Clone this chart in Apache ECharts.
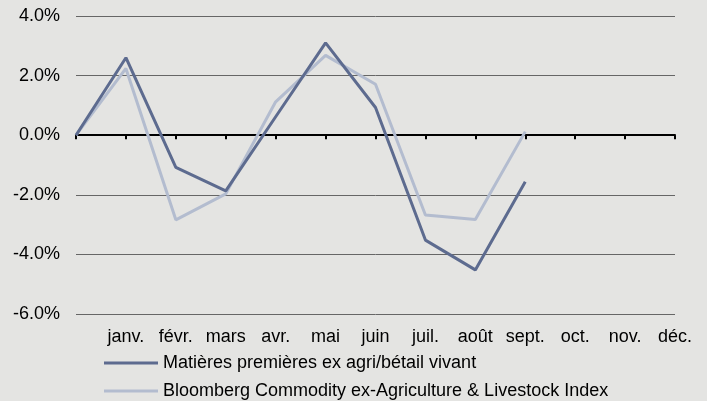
<!DOCTYPE html>
<html>
<head>
<meta charset="utf-8">
<script src="https://cdn.jsdelivr.net/npm/echarts@6/dist/echarts.min.js"></script>
<style>
  html, body { margin: 0; padding: 0; background: #e4e4e2; }
  #chart { width: 707px; height: 401px; }
</style>
</head>
<body>
<div id="chart"></div>
<script>
// Month labels (first slot is the starting point at zero)
const categories = ['', 'janv.', 'févr.', 'mars', 'avr.', 'mai', 'juin', 'juil.', 'août', 'sept.', 'oct.', 'nov.', 'déc.'];

// Monthly returns, in %
const fundValues = [0, 2.60, -1.08, -1.87, 0.62, 3.10, 0.93, -3.52, -4.52, -1.56, null, null, null];
const indexValues = [0, 2.24, -2.84, -1.97, 1.12, 2.68, 1.71, -2.68, -2.83, 0.12, null, null, null];

const seriesNames = [
  'Matières premières ex agri/bétail vivant',
  'Bloomberg Commodity ex-Agriculture & Livestock Index'
];
const seriesColors = ['#5d6b8f', '#b3bccf'];

// y-axis range and step, in %
const yMin = -6, yMax = 4, yStep = 2;

const FONT = '"Liberation Sans", Arial, Helvetica, sans-serif';
const FS = 18;

const chart = echarts.init(document.getElementById('chart'), null, { renderer: 'canvas' });

// one legend row per series, stacked under the plot
const legendRow = (name, top) => ({
  left: 104,
  top: top,
  itemWidth: 54,
  itemHeight: 3,
  icon: 'rect',
  padding: 0,
  textStyle: { fontFamily: FONT, fontSize: FS, color: '#000' },
  data: [name]
});

chart.setOption({
  backgroundColor: '#e4e4e2',
  animation: false,
  textStyle: { fontFamily: FONT, color: '#000' },
  grid: { left: 76, right: 32, top: 16, bottom: 87, containLabel: false },
  legend: [
    legendRow(seriesNames[0], 354),
    legendRow(seriesNames[1], 382)
  ],
  xAxis: [
    {
      // month labels along the bottom of the plot
      type: 'category',
      data: categories,
      boundaryGap: false,
      position: 'bottom',
      axisLine: { show: false, onZero: false },
      axisTick: { show: false },
      splitLine: { show: false },
      axisLabel: { fontFamily: FONT, fontSize: FS, color: '#000', margin: 14, interval: 0 }
    },
    {
      // zero line with tick marks
      type: 'category',
      data: categories,
      boundaryGap: false,
      position: 'bottom',
      axisLine: { show: true, onZero: true, lineStyle: { color: '#000', width: 2 } },
      axisTick: { show: true, length: 4, inside: false, interval: 0, lineStyle: { color: '#000', width: 2 } },
      axisLabel: { show: false },
      splitLine: { show: false }
    }
  ],
  yAxis: {
    type: 'value',
    min: yMin,
    max: yMax,
    interval: yStep,
    axisLine: { show: false },
    axisTick: { show: false },
    splitLine: { show: true, lineStyle: { color: '#666', width: 1 } },
    axisLabel: {
      fontFamily: FONT,
      fontSize: FS,
      color: '#000',
      margin: 16,
      formatter: v => v.toFixed(1) + '%'
    }
  },
  series: [
    {
      name: seriesNames[0],
      type: 'line',
      xAxisIndex: 0,
      data: fundValues,
      showSymbol: false,
      symbol: 'none',
      color: seriesColors[0],
      lineStyle: { color: seriesColors[0], width: 3 },
      z: 3
    },
    {
      name: seriesNames[1],
      type: 'line',
      xAxisIndex: 0,
      data: indexValues,
      showSymbol: false,
      symbol: 'none',
      color: seriesColors[1],
      lineStyle: { color: seriesColors[1], width: 3 },
      z: 2
    }
  ]
});
</script>
</body>
</html>
